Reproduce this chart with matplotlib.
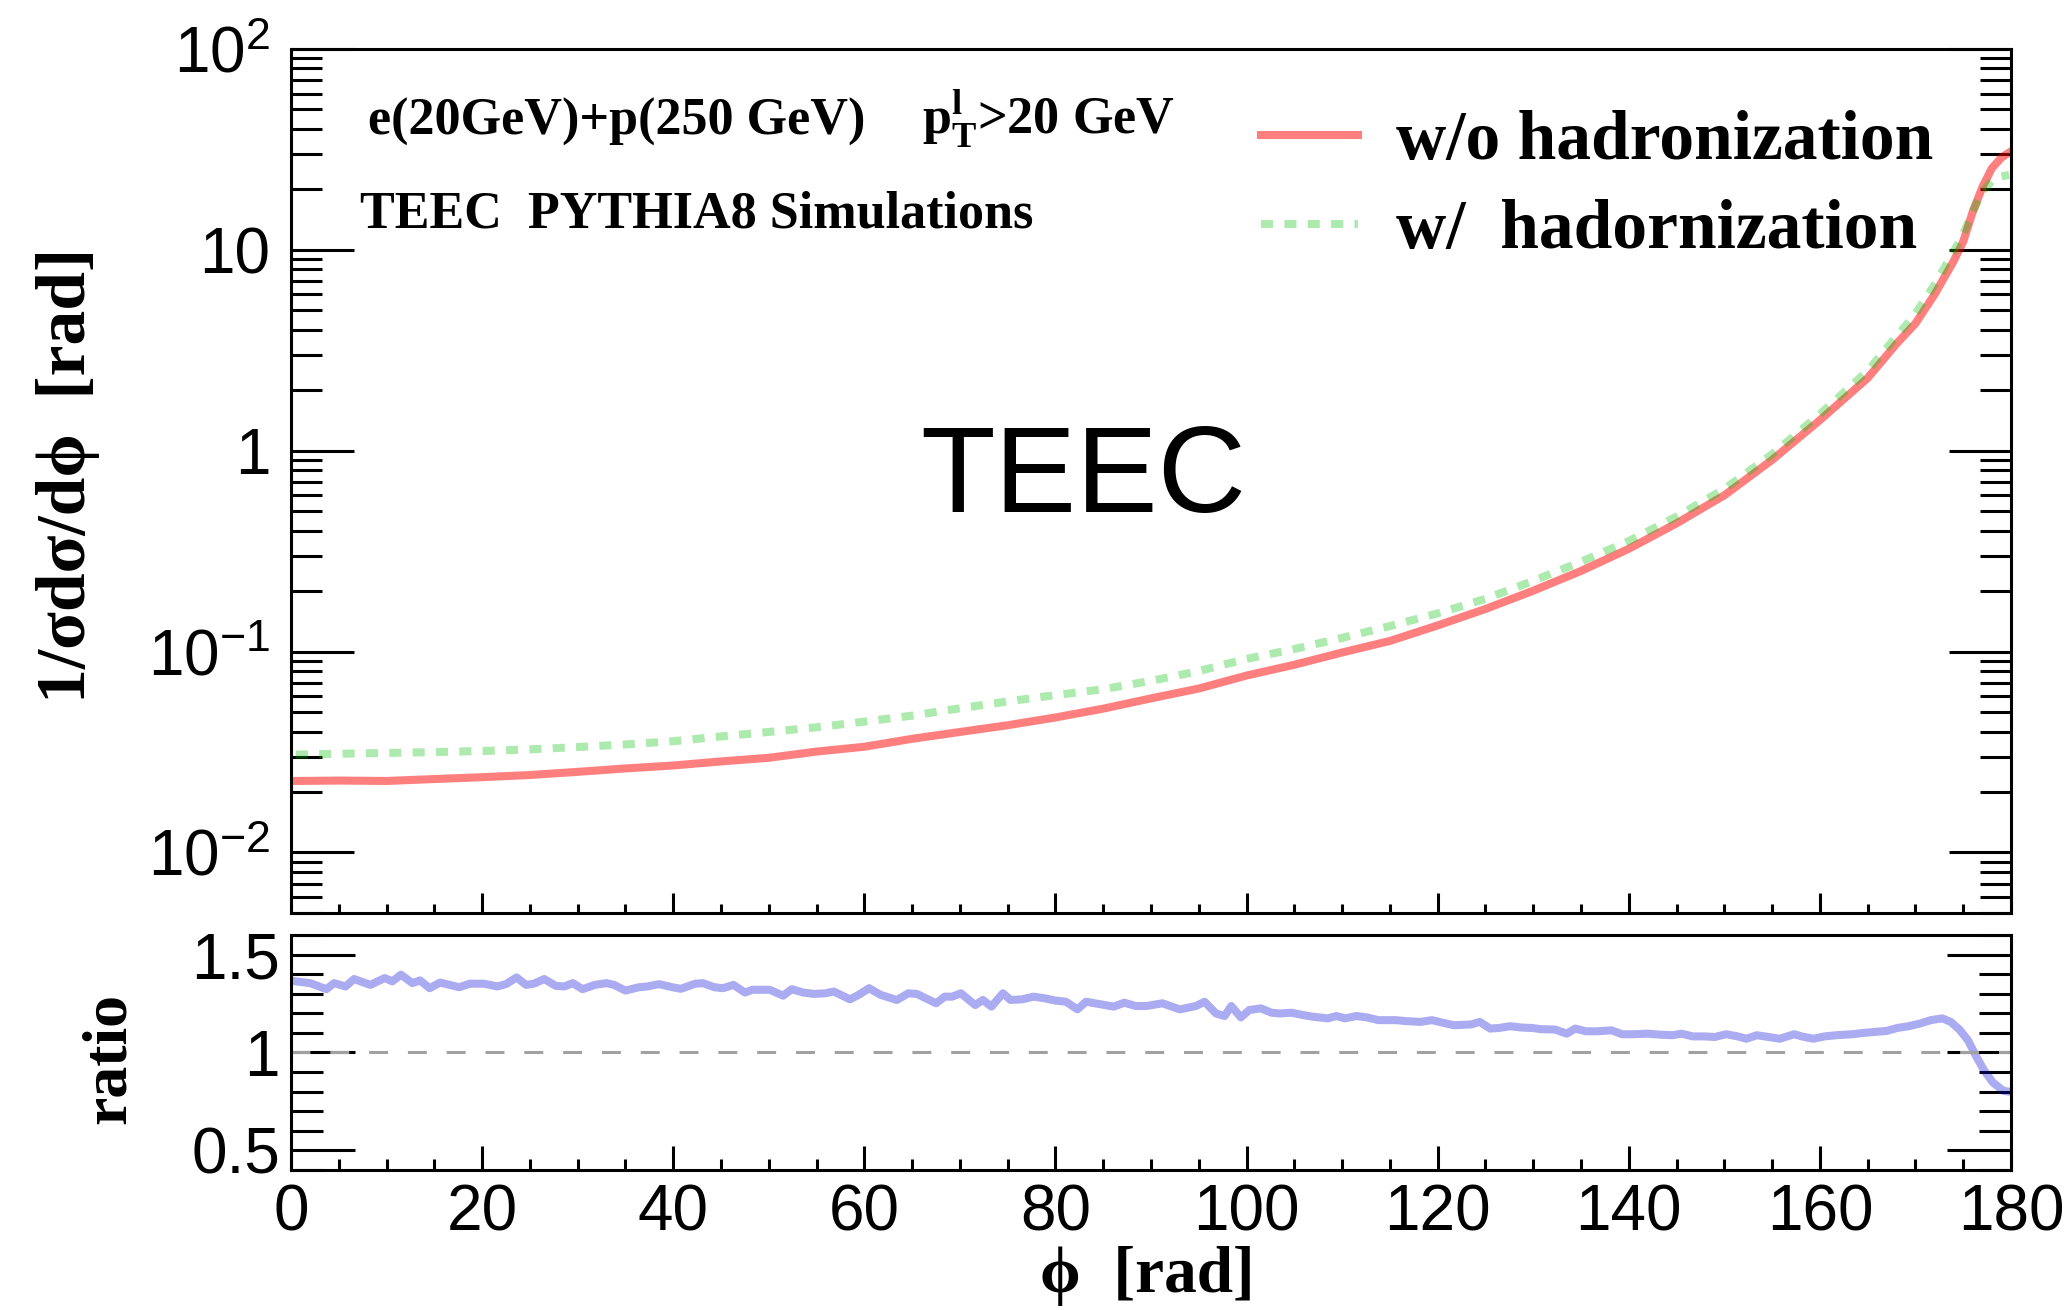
import matplotlib
matplotlib.use("Agg")
import matplotlib.pyplot as plt
from matplotlib.ticker import FixedLocator, MultipleLocator, NullFormatter

plt.rcParams['font.family'] = ['Liberation Sans', 'DejaVu Sans']
plt.rcParams['mathtext.fontset'] = 'custom'
plt.rcParams['mathtext.rm'] = 'Liberation Sans'
plt.rcParams['mathtext.it'] = 'Liberation Sans:italic'
plt.rcParams['mathtext.bf'] = 'Liberation Serif:bold'

# TEEC distributions
phi = [0.5, 5, 10, 15, 20, 25, 30, 35, 40, 45, 50, 55, 60, 65, 70, 75, 80, 85, 90,
       95, 100, 105, 110, 115, 120, 125, 130, 135, 140, 145, 150, 155, 160, 165,
       168, 170, 172, 174, 175, 176, 177, 178, 179, 179.8]
no_had = [0.0227, 0.0228, 0.0227, 0.0232, 0.0237, 0.0243, 0.0252, 0.0262, 0.0271,
          0.0284, 0.0296, 0.0318, 0.0336, 0.0368, 0.0398, 0.0430, 0.0470, 0.0520,
          0.0585, 0.0655, 0.0760, 0.0860, 0.0990, 0.113, 0.135, 0.163, 0.201, 0.252,
          0.325, 0.435, 0.600, 0.90, 1.42, 2.30, 3.4, 4.3, 6.0, 8.8, 11.0, 15.5,
          20.5, 25.5, 28.8, 30.5]
with_had = [0.0307, 0.0310, 0.0313, 0.0316, 0.0320, 0.0326, 0.0335, 0.0345, 0.0358,
            0.0378, 0.0398, 0.0420, 0.0448, 0.0480, 0.0522, 0.0565, 0.0607, 0.0650,
            0.0715, 0.0800, 0.0920, 0.103, 0.117, 0.134, 0.155, 0.183, 0.225, 0.280,
            0.355, 0.470, 0.645, 0.96, 1.52, 2.50, 3.7, 4.8, 6.7, 9.8, 12.0, 15.5,
            19.5, 22.0, 23.2, 23.6]

# ratio w/ / w/o hadronization
ratio_phi = [0.5, 2.0, 3.7, 4.5, 5.7, 6.6, 8.3, 9.8, 10.6, 11.5, 12.7, 13.5, 14.5,
             15.6, 17.6, 18.7, 20.2, 21.6, 22.5, 23.6, 24.6, 25.4, 26.5, 27.7, 28.6,
             29.5, 30.5, 31.8, 33.0, 33.8, 35.0, 36.4, 37.3, 38.5, 39.9, 40.8, 42.3,
             43.1, 44.3, 45.2, 46.3, 47.5, 48.3, 50.1, 51.5, 52.4, 53.6, 54.7, 55.9,
             56.8, 58.5, 59.4, 60.5, 61.7, 63.4, 64.6, 65.5, 67.5, 68.4, 69.2, 70.1,
             71.6, 72.4, 73.3, 74.5, 75.3, 76.5, 77.7, 78.8, 80.0, 81.1, 82.3, 83.2,
             84.6, 86.1, 87.2, 88.4, 89.5, 91.2, 93.0, 94.7, 95.6, 96.8, 97.7, 98.4,
             99.4, 100.3, 101.5, 102.6, 103.5, 104.7, 105.9, 107.0, 108.5, 109.4,
             110.3, 111.5, 112.6, 113.8, 115.6, 116.7, 118.2, 119.4, 120.6, 121.7,
             123.5, 124.4, 125.5, 126.4, 127.6, 128.8, 129.9, 130.8, 132.3, 133.5,
             134.4, 135.5, 136.7, 138.2, 139.3, 140.5, 142.0, 143.2, 144.6, 145.5,
             146.7, 147.9, 149.0, 150.2, 151.4, 152.3, 153.4, 154.6, 155.8, 157.3,
             158.1, 159.3, 160.5, 161.7, 163.4, 164.6, 165.8, 167.0, 168.1, 169.3,
             170.5, 171.6, 172.8, 173.7, 174.6, 175.5, 176.3, 177.2, 178.1, 179.2,
             179.8]
ratio_val = [1.363, 1.354, 1.323, 1.354, 1.337, 1.375, 1.345, 1.380, 1.363, 1.397,
             1.354, 1.368, 1.328, 1.357, 1.333, 1.351, 1.351, 1.337, 1.349, 1.383,
             1.345, 1.351, 1.375, 1.340, 1.337, 1.354, 1.323, 1.345, 1.354, 1.345,
             1.316, 1.333, 1.337, 1.349, 1.333, 1.325, 1.351, 1.354, 1.333, 1.328,
             1.345, 1.306, 1.320, 1.320, 1.290, 1.323, 1.306, 1.299, 1.302, 1.311,
             1.271, 1.294, 1.328, 1.294, 1.268, 1.302, 1.299, 1.251, 1.285, 1.285,
             1.302, 1.242, 1.268, 1.234, 1.302, 1.268, 1.271, 1.285, 1.277, 1.265,
             1.259, 1.220, 1.259, 1.247, 1.234, 1.254, 1.237, 1.237, 1.251, 1.220,
             1.237, 1.259, 1.199, 1.186, 1.237, 1.179, 1.217, 1.225, 1.203, 1.199,
             1.203, 1.191, 1.182, 1.174, 1.186, 1.174, 1.186, 1.179, 1.165, 1.165,
             1.160, 1.156, 1.165, 1.151, 1.139, 1.143, 1.156, 1.122, 1.125, 1.134,
             1.127, 1.125, 1.119, 1.117, 1.096, 1.122, 1.108, 1.108, 1.113, 1.093,
             1.093, 1.096, 1.091, 1.088, 1.096, 1.082, 1.082, 1.079, 1.093, 1.082,
             1.070, 1.088, 1.079, 1.070, 1.093, 1.082, 1.070, 1.082, 1.088, 1.093,
             1.100, 1.105, 1.110, 1.125, 1.134, 1.148, 1.165, 1.174, 1.156, 1.117,
             1.062, 0.985, 0.907, 0.847, 0.804, 0.800]

fig = plt.figure(figsize=(20.7, 13.1), dpi=100)
ax1 = fig.add_axes([0.1406, 0.3031, 0.8309, 0.6595])
ax2 = fig.add_axes([0.1406, 0.1069, 0.8309, 0.1794])

red = (1.0, 0.0, 0.0, 0.5)
green = (0.0, 0.75, 0.0, 0.32)
blue = (0.0, 0.0, 0.85, 0.33)

ax1.plot(phi, no_had, color=red, lw=5.8, label="w/o hadronization")
ax1.plot(phi, with_had, color=green, lw=5.8, linestyle=(0, (1.5, 1.4)),
         dash_capstyle='butt', label="w/  hadornization")
ax1.set_yscale('log')
ax1.set_xlim(0, 180)
ax1.set_ylim(0.005, 100)

ax2.plot(ratio_phi, ratio_val, color=blue, lw=5.8)
ax2.axhline(1.0, color=(0.63, 0.63, 0.63), lw=2.2, linestyle=(0, (6.2, 6.5)))
ax2.set_xlim(0, 180)
ax2.set_ylim(0.4, 1.6)

for ax in (ax1, ax2):
    for s in ax.spines.values():
        s.set_linewidth(2.2)
    ax.xaxis.set_major_locator(MultipleLocator(20))
    ax.xaxis.set_minor_locator(MultipleLocator(5))

ax1.yaxis.set_major_locator(FixedLocator([0.01, 0.1, 1, 10, 100]))
ax1.yaxis.set_minor_locator(FixedLocator(
    [m * 10.0 ** e for e in range(-3, 2) for m in range(2, 10)]))
ax1.yaxis.set_minor_formatter(NullFormatter())
ax1.set_yticklabels([r'$\mathregular{10^{-2}}$', r'$\mathregular{10^{-1}}$', '1', '10',
                     r'$\mathregular{10^{2}}$'])
ax1.tick_params(axis='y', which='major', direction='in', length=45, width=2.2,
                left=True, right=True, labelsize=46, pad=15)
ax1.tick_params(axis='y', which='minor', direction='in', length=22, width=2.2,
                left=True, right=True)
ax1.tick_params(axis='x', which='major', direction='in', length=14.5, width=2.2,
                labelbottom=False)
ax1.tick_params(axis='x', which='minor', direction='in', length=6.5, width=2.2)

ax2.set_yticks([0.5, 1.0, 1.5])
ax2.set_yticklabels(['0.5', '1', '1.5'])
ax2.yaxis.set_minor_locator(MultipleLocator(0.1))
ax2.tick_params(axis='y', which='major', direction='in', length=46, width=2.2,
                left=True, right=True, labelsize=46, pad=8)
ax2.tick_params(axis='y', which='minor', direction='in', length=23, width=2.2,
                left=True, right=True)
ax2.tick_params(axis='x', which='major', direction='in', length=17, width=2.2,
                labelsize=46, pad=10)
ax2.tick_params(axis='x', which='minor', direction='in', length=8, width=2.2)

serif = ['Liberation Serif', 'DejaVu Serif']

leg = ax1.legend(loc='upper left', bbox_to_anchor=(1261 / 2070, 1 - 110 / 1310),
                 bbox_transform=fig.transFigure, frameon=False,
                 prop={'family': serif, 'weight': 'bold', 'size': 50},
                 handlelength=1.4, handletextpad=0.55, labelspacing=0.36,
                 borderpad=0, borderaxespad=0)

fig.text(368 / 2070, 1 - 135 / 1310, "e(20GeV)+p(250 GeV)", family=serif,
         weight='bold', fontsize=37.5, va='baseline')
fig.text(922 / 2070, 1 - 135 / 1310,
         r'$\mathbf{p}_{\mathbf{T}}^{\mathbf{l}}$>20 GeV', family=serif,
         weight='bold', fontsize=37.5, va='baseline')
fig.text(360 / 2070, 1 - 228 / 1310, "TEEC  PYTHIA8 Simulations", family=serif,
         weight='bold', fontsize=37.5, va='baseline')
fig.text(920 / 2070, 1 - 512 / 1310, "TEEC", fontsize=88, va='baseline')

fig.text(68 / 2070, 1 - 475 / 1310, "1/σdσ/dϕ  [rad]", family=serif,
         weight='bold', fontsize=50, rotation=90, ha='center', va='center')
fig.text(110 / 2070, 1 - 1058 / 1310, "ratio", family=serif, weight='bold',
         fontsize=46, rotation=90, ha='center', va='center')
fig.text(1147 / 2070, 1 - 1276 / 1310, "ϕ  [rad]", family=serif, weight='bold',
         fontsize=47, ha='center', va='center')

fig.savefig("out.png", dpi=100)
